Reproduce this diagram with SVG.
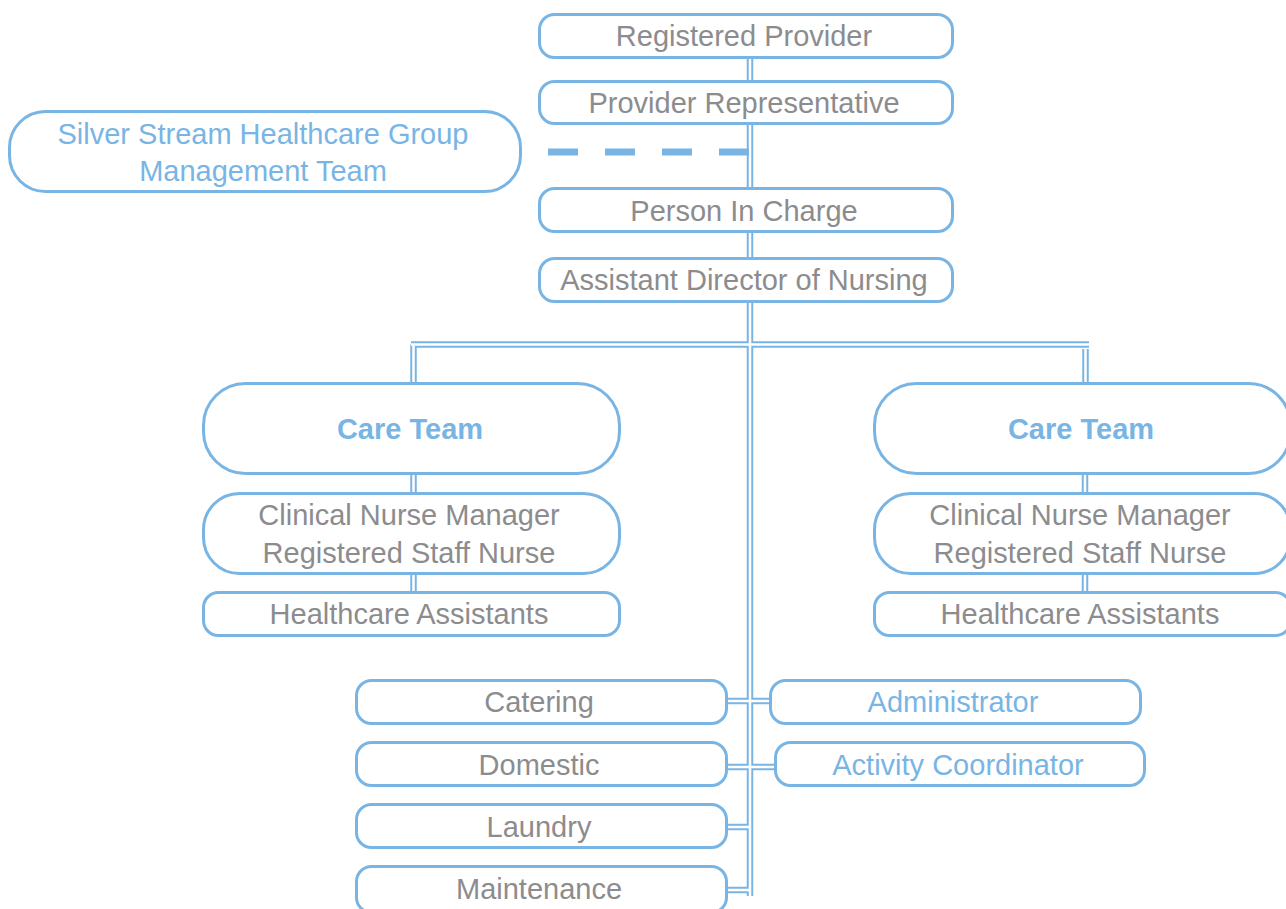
<svg xmlns="http://www.w3.org/2000/svg" width="1286" height="909" viewBox="0 0 1286 909">
<style>
.box{fill:#fff;stroke:#78b5e4;stroke-width:3}
.t{font-family:"Liberation Sans",Arial,sans-serif;font-size:29px;fill:#8c8c8e;text-anchor:middle}
.b{fill:#78b5e4}
.bold{font-weight:bold}
.outer{fill:none;stroke:#78b5e4;stroke-width:6.5}
.inner{fill:none;stroke:#fff;stroke-width:2.5}
</style>
<rect width="1286" height="909" fill="#fff"/>
<g id="connectors">
<g class="outer">
<path d="M750 58V81M750 124V188M750 232V258M750 302V896"/>
<path d="M411 344.5H1089M413.5 344.5V383M1085.5 349V383"/>
<path d="M413.5 474V493M413.5 574V592M1085 474V493M1085 574V592"/>
<path d="M727 701H770M727 767H775M727 827H750M727 890H750"/>
</g>
<g class="inner">
<path d="M750 58V81M750 124V188M750 232V258M750 302V896"/>
<path d="M411 344.5H1089M413.5 344.5V383M1085.5 349V383"/>
<path d="M413.5 474V493M413.5 574V592M1085 474V493M1085 574V592"/>
<path d="M727 701H770M727 767H775M727 827H750M727 890H750"/>
</g>
<path d="M548 152H750" fill="none" stroke="#78b5e4" stroke-width="7" stroke-dasharray="30 27"/>
</g>
<g id="registered-provider"><rect class="box" x="539.5" y="14.5" width="413" height="43" rx="15"/><text class="t" x="744" y="46">Registered Provider</text></g>
<g id="provider-representative"><rect class="box" x="539.5" y="81.5" width="413" height="42" rx="15"/><text class="t" x="744" y="113">Provider Representative</text></g>
<g id="management-team"><rect class="box" x="9.5" y="111.5" width="511" height="80" rx="36"/><text class="t b" x="263" y="144">Silver Stream Healthcare Group</text><text class="t b" x="263" y="181">Management Team</text></g>
<g id="person-in-charge"><rect class="box" x="539.5" y="188.5" width="413" height="43" rx="15"/><text class="t" x="744" y="221">Person In Charge</text></g>
<g id="adon"><rect class="box" x="539.5" y="258.5" width="413" height="43" rx="15"/><text class="t" x="744" y="290">Assistant Director of Nursing</text></g>
<g id="care-team-left"><rect class="box" x="203.5" y="383.5" width="416" height="90" rx="42"/><text class="t b bold" x="410" y="439">Care Team</text></g>
<g id="nurses-left"><rect class="box" x="203.5" y="493.5" width="416" height="80" rx="36"/><text class="t" x="409" y="525">Clinical Nurse Manager</text><text class="t" x="409" y="563">Registered Staff Nurse</text></g>
<g id="hca-left"><rect class="box" x="203.5" y="592.5" width="416" height="43" rx="15"/><text class="t" x="409" y="624">Healthcare Assistants</text></g>
<g id="care-team-right"><rect class="box" x="874.5" y="383.5" width="416" height="90" rx="42"/><text class="t b bold" x="1081" y="439">Care Team</text></g>
<g id="nurses-right"><rect class="box" x="874.5" y="493.5" width="416" height="80" rx="36"/><text class="t" x="1080" y="525">Clinical Nurse Manager</text><text class="t" x="1080" y="563">Registered Staff Nurse</text></g>
<g id="hca-right"><rect class="box" x="874.5" y="592.5" width="416" height="43" rx="15"/><text class="t" x="1080" y="624">Healthcare Assistants</text></g>
<g id="catering"><rect class="box" x="356.5" y="680.5" width="370" height="43" rx="15"/><text class="t" x="539" y="712">Catering</text></g>
<g id="administrator"><rect class="box" x="770.5" y="680.5" width="370" height="43" rx="15"/><text class="t b" x="953" y="712">Administrator</text></g>
<g id="domestic"><rect class="box" x="356.5" y="742.5" width="370" height="43" rx="15"/><text class="t" x="539" y="775">Domestic</text></g>
<g id="activity-coordinator"><rect class="box" x="775.5" y="742.5" width="369" height="43" rx="15"/><text class="t b" x="958" y="775">Activity Coordinator</text></g>
<g id="laundry"><rect class="box" x="356.5" y="804.5" width="370" height="43" rx="15"/><text class="t" x="539" y="837">Laundry</text></g>
<g id="maintenance"><rect class="box" x="356.5" y="866.5" width="370" height="46" rx="15"/><text class="t" x="539" y="899">Maintenance</text></g>
</svg>
